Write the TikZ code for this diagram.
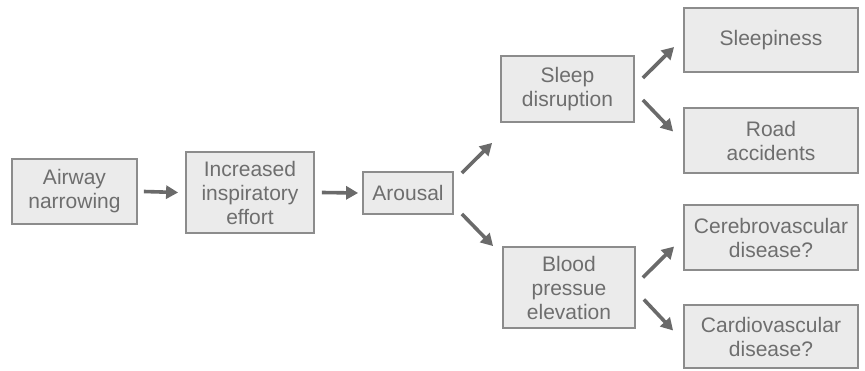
\documentclass[tikz,border=0pt]{standalone}
\usepackage{fontspec}
\setmainfont{Liberation Sans}
\usepackage{tikz}
\usetikzlibrary{calc,arrows.meta}
\definecolor{boxfill}{HTML}{EBEBEB}
\definecolor{boxline}{HTML}{8C8C8C}
\definecolor{ink}{HTML}{6E6E6E}
\definecolor{arrowc}{HTML}{6A6A6A}
\tikzset{
  box/.style={draw=boxline, fill=boxfill, line width=1.8pt, text=ink, align=center,
    inner sep=0pt, font=\fontsize{21}{24}\selectfont},
  arr/.style={draw=arrowc, line width=3.6pt, -{Triangle[length=12pt, width=13pt]}},
}

\begin{document}
\begin{tikzpicture}[x=1pt, y=-1pt]
  \useasboundingbox[fill=white] (0,0) rectangle (865,371);

  % chain
  \node[box, minimum width=125pt, minimum height=65pt] (airway) at (74.5,191.5) {Airway\\narrowing};
  \node[box, minimum width=128pt, minimum height=81pt] (effort) at (250,192.5) {Increased\\inspiratory\\effort};
  \node[box, minimum width=90pt, minimum height=42pt] (arousal) at (408,193) {Arousal};

  % middle column
  \node[box, minimum width=133pt, minimum height=66pt] (sleep) at (567.5,89) {Sleep\\disruption};
  \node[box, minimum width=132pt, minimum height=81pt] (bp) at (569,287.5) {Blood\\pressue\\elevation};

  % outcomes
  \node[box, minimum width=174pt, minimum height=64pt] (sleepy) at (771,40) {Sleepiness};
  \node[box, minimum width=174pt, minimum height=65pt] (road) at (771,140.5) {Road\\accidents};
  \node[box, minimum width=174pt, minimum height=65pt] (cerebro) at (771,237.5) {Cerebrovascular\\disease?};
  \node[box, minimum width=174pt, minimum height=63pt] (cardio) at (771,336.5) {Cardiovascular\\disease?};

  \draw[arr] ($(airway.east)+(6,0)$) -- ($(effort.west)+(-7,0)$);
  \draw[arr] ($(effort.east)+(7,0)$) -- ($(arousal.west)+(-4,0)$);
  \draw[arr] ($(arousal.east)+(8,-20)$) -- ($(sleep.south west)+(-8,20)$);
  \draw[arr] ($(arousal.east)+(8,21)$) -- ($(bp.north west)+(-9,0)$);
  \draw[arr] ($(sleep.east)+(8,-11)$) -- ($(sleepy.west)+(-9,7)$);
  \draw[arr] ($(sleep.east)+(8,11)$) -- ($(road.west)+(-10,-9)$);
  \draw[arr] ($(bp.east)+(7,-10)$) -- ($(cerebro.west)+(-9,9)$);
  \draw[arr] ($(bp.east)+(8,12)$) -- ($(cardio.west)+(-10,-6)$);
\end{tikzpicture}
\end{document}
